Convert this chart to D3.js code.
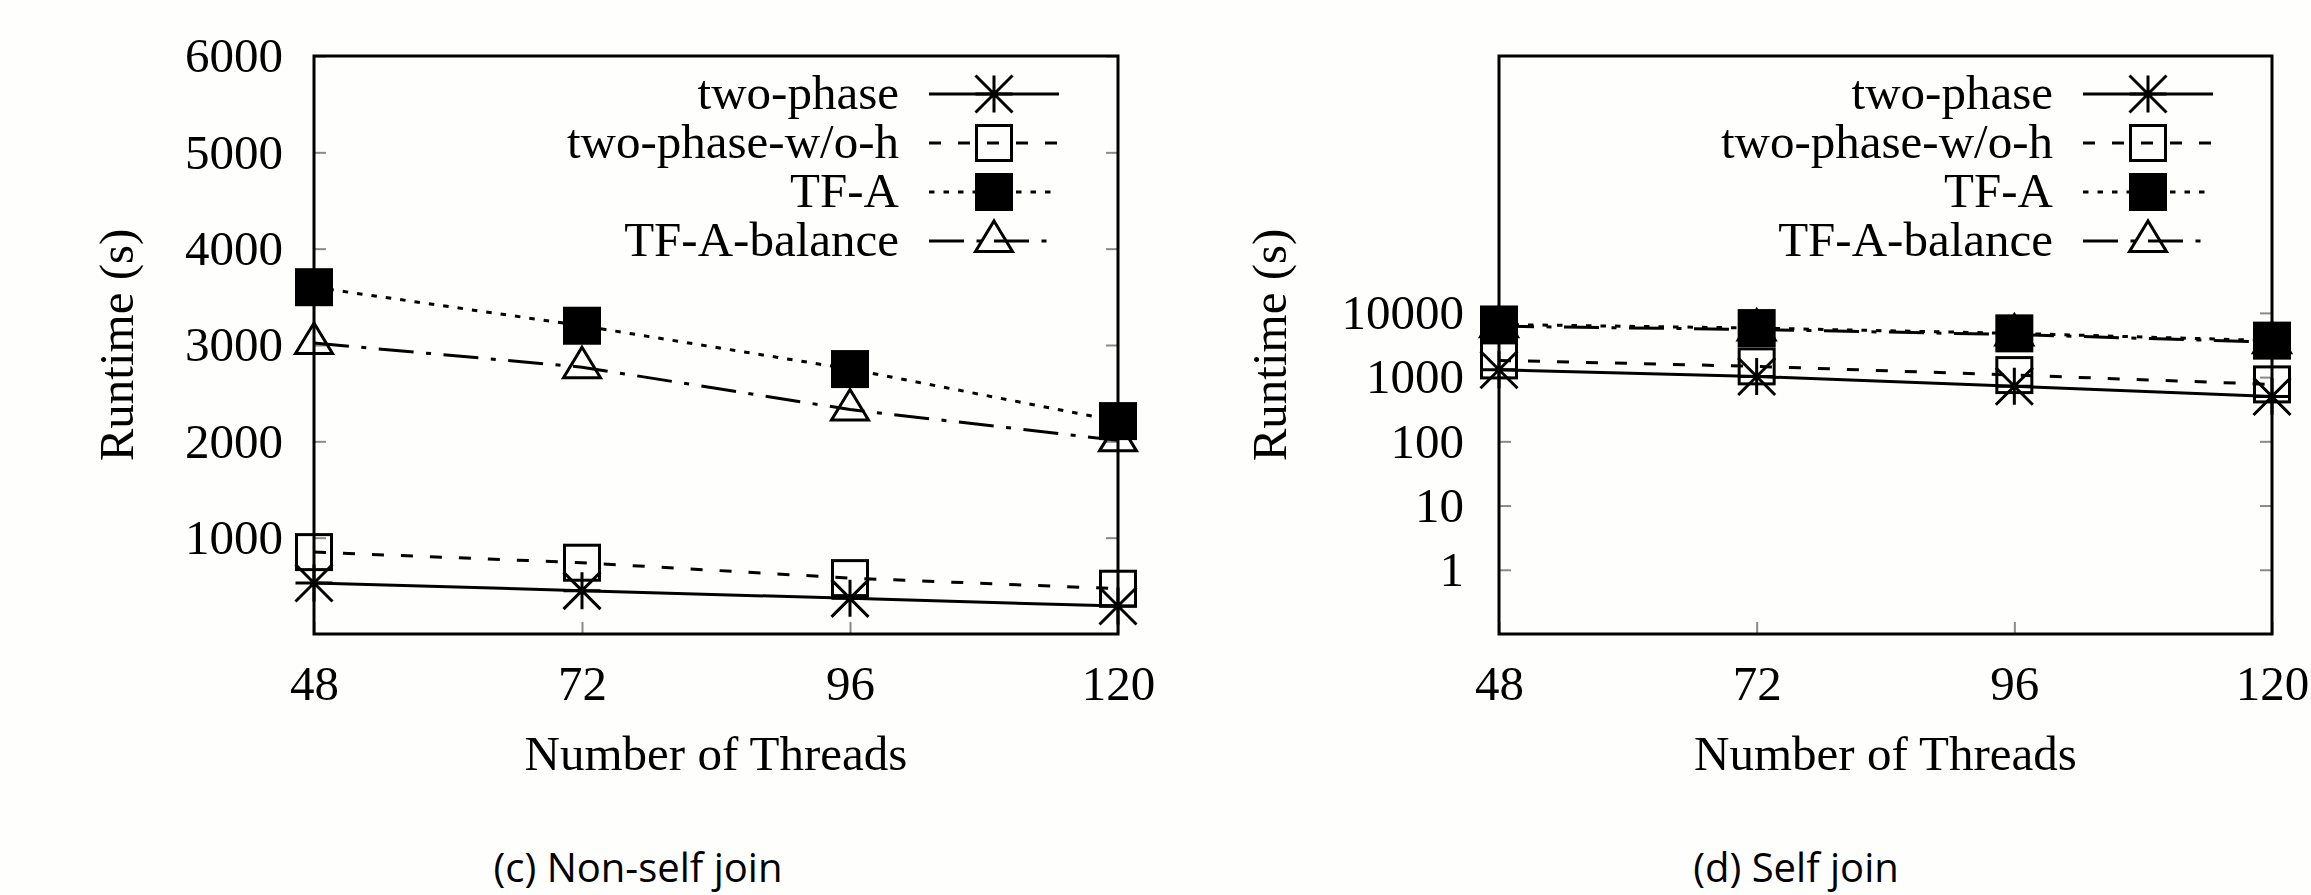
<!DOCTYPE html>
<html>
<head>
<meta charset="utf-8">
<script src="https://cdn.jsdelivr.net/npm/d3@7"></script>
<style>
  html, body { margin: 0; padding: 0; background: #fefefc; }
  svg { display: block; }
</style>
</head>
<body>
<svg id="chart"></svg>
<script>
// categories
const threads = [48, 72, 96, 120];
const seriesNames = ["two-phase", "two-phase-w/o-h", "TF-A", "TF-A-balance"];

// (c) non-self join, runtime in seconds
const nonSelfTwoPhase = [530, 450, 370, 290];
const nonSelfWoH = [850, 740, 580, 470];
const nonSelfTFA = [3600, 3200, 2750, 2210];
const nonSelfBalance = [3020, 2770, 2330, 2010];

// (d) self join, runtime in seconds (log axis)
const selfTwoPhase = [1300, 1020, 720, 500];
const selfWoH = [1820, 1470, 1075, 770];
const selfTFA = [6600, 5800, 4800, 3700];
const selfBalance = [6200, 5500, 4600, 3500];

// tick labels
const linearTicks = [1000, 2000, 3000, 4000, 5000, 6000];
const logTicks = [1, 10, 100, 1000, 10000];

const W = 2311, H = 895;
const serif = "'Liberation Serif', 'Times New Roman', serif";
const fs = 49;

const svg = d3.select("#chart")
    .attr("width", W)
    .attr("height", H)
    .attr("font-family", serif);

svg.append("rect").attr("width", W).attr("height", H).attr("fill", "#fefefc");

// line styles per series
const dashes = [null, "12,17", "5.5,9", "35,12.5,5,12.5"];
const markers = ["star", "square", "filled", "triangle"];

function drawMarker(g, type, cx, cy) {
    const s = 18.5;
    if (type === "star") {
        g.append("path")
            .attr("d", `M${cx},${cy - s}V${cy + s}M${cx - s},${cy}H${cx + s}` +
                `M${cx - s},${cy - s}L${cx + s},${cy + s}M${cx - s},${cy + s}L${cx + s},${cy - s}`)
            .attr("stroke", "#000").attr("stroke-width", 3).attr("fill", "none");
    } else if (type === "square") {
        g.append("rect")
            .attr("x", cx - 17.5).attr("y", cy - 17.5)
            .attr("width", 35).attr("height", 35)
            .attr("fill", "none").attr("stroke", "#000").attr("stroke-width", 3);
    } else if (type === "filled") {
        g.append("rect")
            .attr("x", cx - 19).attr("y", cy - 19)
            .attr("width", 38).attr("height", 38)
            .attr("fill", "#000");
    } else {
        g.append("path")
            .attr("d", `M${cx},${cy - 20}L${cx + 18.5},${cy + 10.5}L${cx - 18.5},${cy + 10.5}Z`)
            .attr("fill", "none").attr("stroke", "#000").attr("stroke-width", 3)
            .attr("stroke-linejoin", "miter");
    }
}

function drawPanel(p) {
    const x = d3.scaleLinear().domain([48, 120]).range([p.left, p.right]);
    const y = p.log
        ? d3.scaleLog().domain([0.1, 1e8]).range([p.bottom, p.top])
        : d3.scaleLinear().domain([0, 6000]).range([p.bottom, p.top]);

    const g = svg.append("g");

    // y axis, ticks inward, grey
    const yAxis = d3.axisLeft(y)
        .tickValues(p.log ? logTicks : linearTicks)
        .tickFormat(d3.format("d"))
        .tickSize(-12).tickPadding(p.labelPad).tickSizeOuter(0);
    const ya = g.append("g").attr("transform", `translate(${p.left},0)`).call(yAxis);
    ya.select(".domain").remove();
    ya.selectAll("line").attr("stroke", "#8a8a8a").attr("stroke-width", 2);
    ya.selectAll("text").attr("font-family", serif).attr("font-size", fs).attr("fill", "#000");

    const yMirror = d3.axisRight(y).tickValues(p.log ? logTicks : linearTicks)
        .tickSize(-12).tickFormat("");
    const ym = g.append("g").attr("transform", `translate(${p.right},0)`).call(yMirror);
    ym.select(".domain").remove();
    ym.selectAll("line").attr("stroke", "#8a8a8a").attr("stroke-width", 2);

    const xAxis = d3.axisBottom(x).tickValues(threads).tickSize(-12).tickPadding(31);
    const xa = g.append("g").attr("transform", `translate(0,${p.bottom})`).call(xAxis);
    xa.select(".domain").remove();
    xa.selectAll("line").attr("stroke", "#8a8a8a").attr("stroke-width", 2);
    xa.selectAll("text").attr("font-family", serif).attr("font-size", fs).attr("fill", "#000");

    // frame
    g.append("rect")
        .attr("x", p.left).attr("y", p.top)
        .attr("width", p.right - p.left).attr("height", p.bottom - p.top)
        .attr("fill", "none").attr("stroke", "#000").attr("stroke-width", 3);

    // axis titles
    g.append("text")
        .attr("transform", `translate(${p.yTitleX},${(p.top + p.bottom) / 2}) rotate(-90)`)
        .attr("text-anchor", "middle")
        .attr("font-size", fs)
        .text("Runtime (s)");
    g.append("text")
        .attr("x", (p.left + p.right) / 2).attr("y", 770)
        .attr("text-anchor", "middle")
        .attr("font-size", fs)
        .text("Number of Threads");

    // series
    const line = d3.line().x((d, i) => x(threads[i])).y(d => y(d));
    p.series.forEach((vals, k) => {
        g.append("path")
            .datum(vals)
            .attr("d", line)
            .attr("fill", "none")
            .attr("stroke", "#000")
            .attr("stroke-width", 3)
            .attr("stroke-dasharray", dashes[k]);
        vals.forEach((v, i) => drawMarker(g, markers[k], x(threads[i]), y(v)));
    });

    // legend
    const textRight = p.right - 219, x0 = p.right - 189, x1 = p.right - 59, mx = p.right - 124;
    seriesNames.forEach((name, k) => {
        const ry = 94 + k * 49;
        g.append("text")
            .attr("x", textRight).attr("y", ry)
            .attr("dy", "0.31em")
            .attr("text-anchor", "end")
            .attr("font-size", fs)
            .text(name);
        g.append("line")
            .attr("x1", x0).attr("x2", x1).attr("y1", ry).attr("y2", ry)
            .attr("stroke", "#000").attr("stroke-width", 3)
            .attr("stroke-dasharray", dashes[k]);
        drawMarker(g, markers[k], mx, ry);
    });

    // caption
    svg.append("text")
        .attr("x", p.capX).attr("y", 882)
        .attr("text-anchor", "middle")
        .attr("font-family", "'Open Sans', sans-serif")
        .attr("font-size", 40)
        .text(p.caption);
}

drawPanel({
    left: 314, right: 1118, top: 56, bottom: 634, log: false, labelPad: 31,
    yTitleX: 133, capX: 638, caption: "(c) Non-self join",
    series: [nonSelfTwoPhase, nonSelfWoH, nonSelfTFA, nonSelfBalance]
});

drawPanel({
    left: 1499, right: 2272, top: 56, bottom: 634, log: true, labelPad: 35,
    yTitleX: 1286, capX: 1796, caption: "(d) Self join",
    series: [selfTwoPhase, selfWoH, selfTFA, selfBalance]
});
</script>
</body>
</html>
